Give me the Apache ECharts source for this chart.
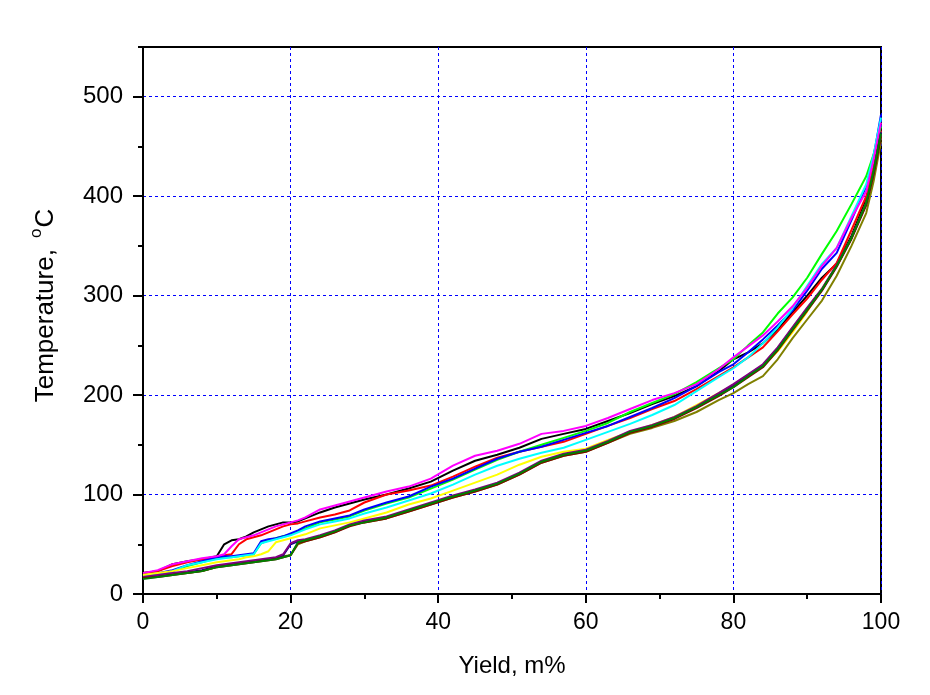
<!DOCTYPE html>
<html>
<head>
<meta charset="utf-8">
<script src="https://cdn.jsdelivr.net/npm/echarts@6/dist/echarts.min.js"></script>
<style>
html,body{margin:0;padding:0;background:#fff;}
#chart{width:930px;height:695px;}
</style>
</head>
<body>
<div id="chart"></div>
<script>
// Yield (m%) sample positions shared by all curves
const yieldPct = [0,2,4,6,8,10, 11,12,13,14,15,16,17,18,19,20,21,22, 24,26,28,30, 33,36,39,42,45,48,51,54,57,60,63,66,69,72,75,78, 80,82,84,86,88,90,92,94,96,98,99,100];

// Temperature (°C) per curve
const tBlack = [21,23,30,33,35,38, 50,54,55,58,62,65,68,70,72,72,73,76, 82,87,91,95, 100,106,113,124,134,140,147,156,161,166,174,182,191,199,209,224, 236,243,252,266,283,300,318,332,360,397,425,462];
const tRed = [21,23,28,32,35,37, 39,40,50,55,57,59,62,65,68,70,71,73, 77,80,84,92, 100,104,109,118,128,137,143,148,153,161,169,177,186,194,206,219, 228,238,248,264,281,297,316,333,366,400,430,466];
const tGreen = [17,20,23,28,32,36, 37,37,38,39,40,51,54,56,58,60,63,66, 72,75,78,84, 91,97,106,115,125,135,143,150,157,164,172,183,192,201,213,227, 236,250,263,282,298,318,342,365,392,420,442,470];
const tBlue = [18,21,24,29,33,37, 38,38,39,40,41,53,55,56,58,61,64,68, 73,76,79,85, 92,98,108,116,126,136,143,148,155,162,169,178,187,197,209,223, 231,243,256,270,285,305,327,343,376,410,440,482];
const tCyan = [18,20,23,29,32,35, 36,37,38,39,40,51,53,55,57,59,62,65, 70,73,76,81, 87,94,101,110,120,129,136,142,147,155,163,171,180,190,204,218, 227,238,252,268,287,310,332,348,380,412,442,479];
const tMagenta = [21,24,30,33,36,38, 40,48,55,57,59,62,65,68,70,72,74,77, 85,89,93,97, 103,108,116,129,139,144,151,161,164,169,177,186,195,202,211,226, 238,249,260,274,289,308,330,348,378,405,437,474];
const tYellow = [19,21,23,26,29,32, 33,34,35,37,38,40,43,52,54,56,58,60, 66,69,72,76, 82,90,96,104,112,120,130,138,143,146,155,163,170,178,190,202, 210,219,229,244,263,284,307,330,358,393,425,460];
const tOlive = [16,18,20,21,23,27, 29,30,31,32,33,34,35,36,38,39,50,53, 57,62,69,72, 76,83,90,97,103,110,120,132,139,143,152,161,167,174,183,195, 202,211,219,236,257,276,295,320,350,383,415,455];
const tNavy = [16,18,20,22,24,28, 29,30,31,32,33,34,35,36,39,50,53,54, 58,63,69,73, 77,84,91,98,104,111,121,133,140,144,153,163,169,177,188,201, 210,220,230,247,267,287,306,330,358,393,425,464];
const tPurple = [17,19,21,23,26,29, 30,31,32,33,34,35,36,37,40,51,54,55, 59,64,70,74, 78,85,92,99,105,112,122,134,141,145,154,164,170,178,189,202, 211,221,231,248,268,288,307,331,358,392,423,462];
const tWine = [16,17,19,21,23,27, 28,29,30,31,32,33,34,35,37,39,51,53, 57,62,68,72, 76,83,90,97,103,110,120,132,139,143,152,162,168,176,187,199, 208,218,228,245,265,285,305,329,357,391,422,460];
const tDarkGreen = [15,17,19,21,23,27, 28,29,30,31,32,33,34,35,37,39,52,54, 58,63,69,72, 77,84,91,98,104,111,121,133,140,144,153,163,169,177,188,200, 208,219,229,246,266,286,306,330,358,393,425,463];

const curveNames = ['Black','Red','Green','Blue','Cyan','Magenta','Yellow','Olive','Navy','Purple','Wine','Dark green'];
const curveValues = [tBlack,tRed,tGreen,tBlue,tCyan,tMagenta,tYellow,tOlive,tNavy,tPurple,tWine,tDarkGreen];
const curveColors = ['#000000','#FF0000','#00FF00','#0000FF','#00FFFF','#FF00FF','#FFFF00','#808000','#000080','#800080','#800000','#008000'];

const yTickLabels = [0,100,200,300,400,500];
const xTickLabels = [0,20,40,60,80,100];

const chart = echarts.init(document.getElementById('chart'), null, {renderer:'canvas'});

const series = curveValues.map((vals, i) => ({
  name: curveNames[i],
  type: 'line',
  showSymbol: false,
  symbol: 'none',
  smooth: false,
  clip: true,
  data: yieldPct.map((x, j) => [x, vals[j]]),
  lineStyle: {color: curveColors[i], width: 2},
  itemStyle: {color: curveColors[i]},
  z: 3
}));

const font = 'Liberation Sans, Arial, sans-serif';

chart.setOption({
  animation: false,
  backgroundColor: '#ffffff',
  grid: {left: 143, right: 49, top: 47, bottom: 101, show: true, borderColor: '#000', borderWidth: 2, backgroundColor: 'transparent'},
  xAxis: {
    type: 'value', min: 0, max: 100, interval: 20,
    axisLine: {show: true, onZero: false, lineStyle: {color: '#000', width: 2}},
    axisTick: {show: true, inside: false, length: 9, lineStyle: {color: '#000', width: 2}},
    minorTick: {show: true, splitNumber: 2, length: 5, lineStyle: {color: '#000', width: 2}},
    splitLine: {show: true, lineStyle: {color: '#0000FF', type: [3,3], width: 1}},
    axisLabel: {color: '#000', fontSize: 23, fontFamily: font, margin: 17,
      customValues: xTickLabels},
    name: 'Yield, m%', nameLocation: 'middle', nameGap: 60,
    nameTextStyle: {color: '#000', fontSize: 24, fontFamily: font}
  },
  yAxis: [
    {
      type: 'value', min: 0, max: 550, interval: 100,
      axisLine: {show: true, onZero: false, lineStyle: {color: '#000', width: 2}},
      axisTick: {show: true, inside: false, length: 10, lineStyle: {color: '#000', width: 2}, customValues: yTickLabels},
      splitLine: {show: true, lineStyle: {color: '#0000FF', type: [3,3], width: 1}},
      axisLabel: {color: '#000', fontSize: 24, fontFamily: font, margin: 20,
        customValues: yTickLabels},
      name: '{a|Temperature, }{s|o}{a|C}', nameLocation: 'middle', nameGap: 84, nameRotate: 90,
      nameTextStyle: {color: '#000', fontSize: 26, fontFamily: font, padding: [0, 0, 0, 30],
        rich: {
          a: {fontSize: 26, fontFamily: font, color: '#000', lineHeight: 31, verticalAlign: 'bottom'},
          s: {fontSize: 17, fontFamily: font, color: '#000', lineHeight: 31, verticalAlign: 'top', padding: [0, 1, 0, 4]}
        }}
    },
    {
      type: 'value', min: 0, max: 550, interval: 50, position: 'left',
      axisLine: {show: false},
      axisTick: {show: true, inside: false, length: 5, lineStyle: {color: '#000', width: 2}},
      splitLine: {show: false},
      axisLabel: {show: false}
    }
  ],
  series: series
});
</script>
</body>
</html>
